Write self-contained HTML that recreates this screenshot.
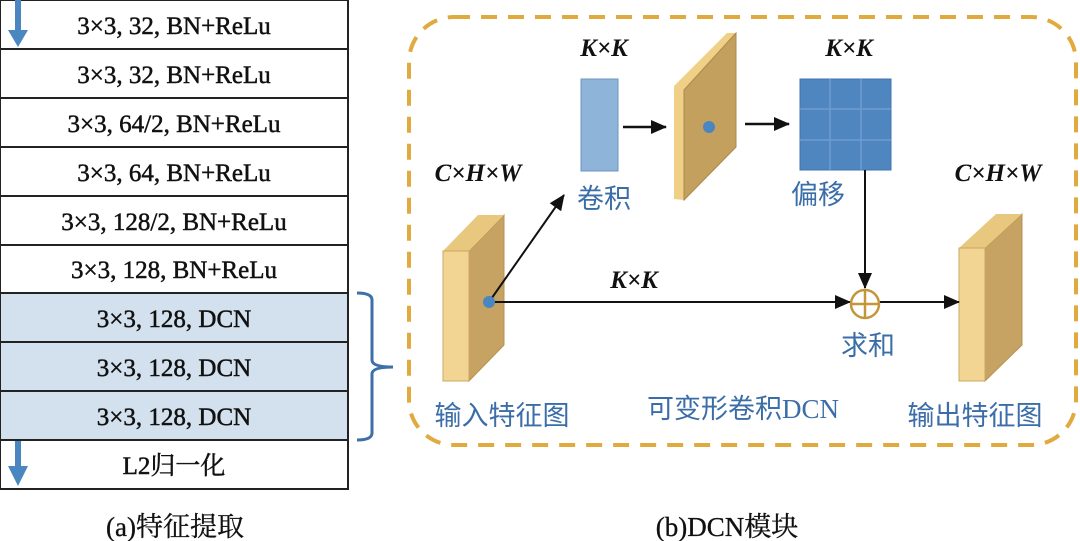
<!DOCTYPE html>
<html><head><meta charset="utf-8"><style>
html,body{margin:0;padding:0;background:#fff;}
svg{display:block;}
.t{font-family:"Liberation Serif","Noto Serif CJK SC",serif;font-size:25px;fill:#111;stroke:#111;stroke-width:0.5;text-anchor:middle;}
.k{font-family:"Liberation Serif",serif;font-size:25px;font-weight:bold;font-style:italic;fill:#111;text-anchor:middle;}
.c{font-family:"Liberation Serif","Noto Sans CJK SC",sans-serif;font-size:27px;fill:#3b6ea8;text-anchor:middle;}
</style></head><body>
<svg width="1080" height="541" viewBox="0 0 1080 541" xmlns="http://www.w3.org/2000/svg">
<defs>
<marker id="ah2" markerWidth="16" markerHeight="16" refX="15" refY="8" orient="auto" markerUnits="userSpaceOnUse"><path d="M0,1 L16,8 L0,15 z" fill="#111"/></marker>
</defs>
<g stroke="#222" stroke-width="2">
<rect x="0" y="293" width="348" height="147" fill="#d3e1ee"/>
<rect x="0" y="0" width="348" height="489" fill="none"/>
<line x1="0" y1="49" x2="348" y2="49"/><line x1="0" y1="98" x2="348" y2="98"/>
<line x1="0" y1="147" x2="348" y2="147"/><line x1="0" y1="196" x2="348" y2="196"/>
<line x1="0" y1="245" x2="348" y2="245"/><line x1="0" y1="293" x2="348" y2="293"/>
<line x1="0" y1="342" x2="348" y2="342"/><line x1="0" y1="391" x2="348" y2="391"/>
<line x1="0" y1="440" x2="348" y2="440"/>
</g>
<text class="t" x="174" y="34">3×3, 32, BN+ReLu</text>
<text class="t" x="174" y="83">3×3, 32, BN+ReLu</text>
<text class="t" x="174" y="132">3×3, 64/2, BN+ReLu</text>
<text class="t" x="174" y="181">3×3, 64, BN+ReLu</text>
<text class="t" x="174" y="230">3×3, 128/2, BN+ReLu</text>
<text class="t" x="174" y="278">3×3, 128, BN+ReLu</text>
<text class="t" x="174" y="327">3×3, 128, DCN</text>
<text class="t" x="174" y="376">3×3, 128, DCN</text>
<text class="t" x="174" y="425">3×3, 128, DCN</text>
<text class="t" x="174" y="474">L2归一化</text>
<text class="t" x="175" y="536" style="font-size:27px;stroke-width:0.3">(a)特征提取</text>
<g fill="#4a86c0">
<rect x="15" y="0" width="6" height="32"/><path d="M8,30 L28,30 L18,47 z"/>
<rect x="15" y="441" width="6" height="28"/><path d="M8,466 L28,466 L18,486 z"/>
</g>
<path d="M357,293 Q372,293 372,300 L372,360 Q372,367 393,367 Q372,367 372,374 L372,433 Q372,440 357,440" fill="none" stroke="#3d6fa8" stroke-width="3"/>
<rect x="409" y="17" width="667" height="428" rx="45" ry="45" fill="none" stroke="#e1aa3e" stroke-width="4" stroke-dasharray="16,11"/>
<polygon points="469,251 504,215 504,345 469,381" fill="#c6a263" stroke="#b89350" stroke-width="1"/>
<polygon points="443,251 478,215 504,215 469,251" fill="#e8c77e"/>
<rect x="443" y="251" width="26" height="130" fill="#f2d592" stroke="#c9a863" stroke-width="1"/>
<polygon points="985,248 1022,214 1022,345 985,381" fill="#c6a263" stroke="#b89350" stroke-width="1"/>
<polygon points="959,248 996,214 1022,214 985,248" fill="#e8c77e"/>
<rect x="959" y="248" width="26" height="133" fill="#f2d592" stroke="#c9a863" stroke-width="1"/>
<rect x="581" y="79" width="37" height="92" fill="#8fb4d9" stroke="#6d95bf" stroke-width="1"/>
<polygon points="674,86 727,33 736,33 684,90 684,200 674,199" fill="#f0cf86"/>
<polygon points="684,90 736,33 736,147 684,200" fill="#c4a05f" stroke="#a98a4c" stroke-width="1"/>
<circle cx="709" cy="127" r="6" fill="#4a86c0"/>
<rect x="800" y="79" width="91" height="91" fill="#4f86c0" stroke="#3f73ad" stroke-width="1"/>
<g stroke="#6d9bd0" stroke-width="1.5">
<line x1="830" y1="79" x2="830" y2="170"/><line x1="861" y1="79" x2="861" y2="170"/>
<line x1="800" y1="109" x2="891" y2="109"/><line x1="800" y1="140" x2="891" y2="140"/>
</g>
<g stroke="#111" stroke-width="2.5" fill="none">
<line x1="623" y1="127" x2="666" y2="127" marker-end="url(#ah2)"/>
<line x1="745" y1="124" x2="789" y2="124" marker-end="url(#ah2)"/>
</g>
<g stroke="#111" stroke-width="2" fill="none">
<line x1="489" y1="302" x2="564" y2="195" marker-end="url(#ah2)"/>
<line x1="489" y1="302" x2="850" y2="302" marker-end="url(#ah2)"/>
<line x1="865" y1="170" x2="865" y2="288" marker-end="url(#ah2)"/>
<line x1="880" y1="302" x2="959" y2="302" marker-end="url(#ah2)"/>
</g>
<circle cx="489" cy="302" r="6" fill="#4a86c0"/>
<circle cx="865" cy="304" r="14" fill="none" stroke="#c4963a" stroke-width="2.5"/>
<line x1="851" y1="304" x2="879" y2="304" stroke="#c4963a" stroke-width="2.5"/>
<line x1="865" y1="290" x2="865" y2="318" stroke="#c4963a" stroke-width="2.5"/>
<text class="k" x="604" y="56">K×K</text>
<text class="k" x="849" y="56">K×K</text>
<text class="k" x="634" y="288">K×K</text>
<text class="k" x="478" y="181">C×H×W</text>
<text class="k" x="998" y="181">C×H×W</text>
<text class="c" x="604" y="208">卷积</text>
<text class="c" x="818" y="204">偏移</text>
<text class="c" x="868" y="355">求和</text>
<text class="c" x="502" y="425">输入特征图</text>
<text class="c" x="743" y="418">可变形卷积DCN</text>
<text class="c" x="975" y="425">输出特征图</text>
<text class="t" x="727" y="536" style="font-size:27px;stroke-width:0.3">(b)DCN模块</text>
</svg>
</body></html>
